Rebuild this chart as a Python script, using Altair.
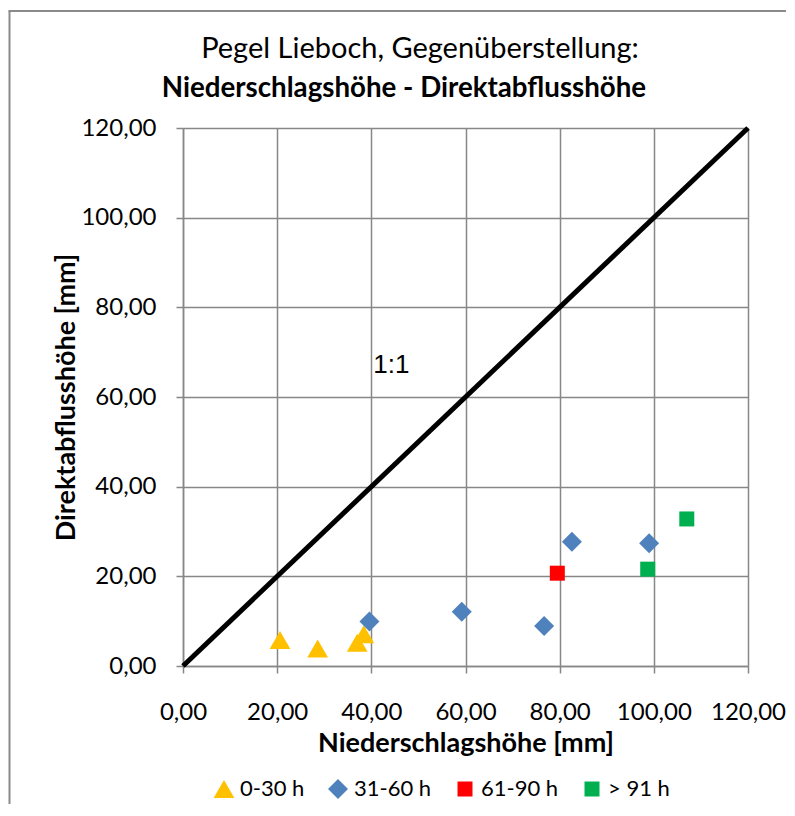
import altair as alt
import pandas as pd

# ---- data ----
series_names = ["0-30 h", "31-60 h", "61-90 h", "> 91 h"]
x_0_30 = [20.6, 28.6, 37.0, 38.4]
y_0_30 = [5.8, 3.9, 5.2, 7.1]
x_31_60 = [39.6, 59.2, 76.7, 82.6, 99.0]
y_31_60 = [9.9, 12.1, 8.9, 27.7, 27.4]
x_61_90 = [79.5]
y_61_90 = [20.7]
x_91 = [98.7, 107.0]
y_91 = [21.6, 32.8]

line_x = [0, 120]
line_y = [0, 120]
annot_text = ["1:1"]
annot_x = [40.4]
annot_y = [65.4]
tick_values = [0, 20, 40, 60, 80, 100, 120]
title_line1 = "Pegel Lieboch, Gegenüberstellung:"
title_line2 = "Niederschlagshöhe - Direktabflusshöhe"

colors = ["#FFC000", "#4F81BD", "#FF0000", "#00B050"]
shapes = ["triangle-up", "diamond", "square", "square"]
sizes = [430, 400, 225, 225]

rows = []
for name, xs, ys in zip(series_names,
                        [x_0_30, x_31_60, x_61_90, x_91],
                        [y_0_30, y_31_60, y_61_90, y_91]):
    for a, b in zip(xs, ys):
        rows.append({"x": a, "y": b, "series": name})
pts = pd.DataFrame(rows)
line_df = pd.DataFrame({"x": line_x, "y": line_y})
annot_df = pd.DataFrame({"x": annot_x, "y": annot_y, "t": annot_text})

FONT = "Lato"
GRID = "#878787"
lab_expr = "replace(format(datum.value, '.2f'), '.', ',')"

xscale = alt.Scale(domain=[0, 120], nice=False, zero=True)
yscale = alt.Scale(domain=[0, 120], nice=False, zero=True)

xaxis = alt.Axis(values=tick_values, labelExpr=lab_expr, title="Niederschlagshöhe [mm]",
                 grid=True, gridColor=GRID, gridWidth=1.5, domainColor=GRID, domainWidth=1.5,
                 tickColor=GRID, tickWidth=1.5, tickSize=7, labelFont=FONT, labelFontSize=24,
                 labelColor="black", labelPadding=27, labelOverlap=False, labelFlush=False,
                 titleFont=FONT, titleFontSize=27, titleFontWeight="bold", titleColor="black",
                 titlePadding=6)
yaxis = alt.Axis(values=tick_values, labelExpr=lab_expr, title="Direktabflusshöhe [mm]",
                 grid=True, gridColor=GRID, gridWidth=1.5, domainColor=GRID, domainWidth=1.5,
                 tickColor=GRID, tickWidth=1.5, tickSize=7, labelFont=FONT, labelFontSize=24,
                 labelColor="black", labelPadding=20, labelOverlap=False, labelFlush=False,
                 titleFont=FONT, titleFontSize=27, titleFontWeight="bold", titleColor="black",
                 titlePadding=0)

line = alt.Chart(line_df).mark_line(color="black", strokeWidth=5).encode(
    x=alt.X("x:Q", scale=xscale, axis=xaxis),
    y=alt.Y("y:Q", scale=yscale, axis=yaxis),
)

points = alt.Chart(pts).mark_point(filled=True, opacity=1, strokeWidth=0).encode(
    x=alt.X("x:Q", scale=xscale),
    y=alt.Y("y:Q", scale=yscale),
    color=alt.Color("series:N", scale=alt.Scale(domain=series_names, range=colors),
                    legend=alt.Legend(title=None, orient="none", legendX=30, legendY=650,
                                      direction="horizontal", labelFont=FONT, labelFontSize=22,
                                      labelColor="black", columnPadding=22, labelOffset=5,
                                      padding=0, symbolStrokeWidth=0)),
    shape=alt.Shape("series:N", scale=alt.Scale(domain=series_names, range=shapes)),
    size=alt.Size("series:N", scale=alt.Scale(type="ordinal", domain=series_names, range=sizes)),
)

annot = alt.Chart(annot_df).mark_text(font="Liberation Sans", fontSize=26, align="left",
                                      baseline="alphabetic", color="black").encode(
    x=alt.X("x:Q", scale=xscale), y=alt.Y("y:Q", scale=yscale), text="t:N")

title_df = pd.DataFrame({"t1": [title_line1], "t2": [title_line2]})
title1 = alt.Chart(title_df).mark_text(font=FONT, fontSize=29, align="center",
                                       baseline="alphabetic", color="black").encode(
    x=alt.value(237), y=alt.value(-70), text="t1:N")
title2 = alt.Chart(title_df).mark_text(font=FONT, fontSize=27.7, fontWeight="bold", align="center",
                                       baseline="alphabetic", color="black").encode(
    x=alt.value(221), y=alt.value(-31), text="t2:N")

# chart-area frame: left and top edges only (the others lie outside the picture)
frame_df = pd.DataFrame({"k": [0]})
frame_left = alt.Chart(frame_df).mark_rule(color="#8a8a8a", strokeWidth=2).encode(
    x=alt.value(-173.5), y=alt.value(-117), y2=alt.value(680))
frame_top = alt.Chart(frame_df).mark_rule(color="#8a8a8a", strokeWidth=2).encode(
    x=alt.value(-174.5), x2=alt.value(610), y=alt.value(-117))

chart = alt.layer(frame_left, frame_top, line, points, annot, title1, title2).properties(
    width=565, height=538,
    autosize=alt.AutoSizeParams(type="none"),
    padding={"left": 175, "top": 120, "right": 38, "bottom": 138},
).configure_view(strokeWidth=0).configure(background="white")

chart.save("out.html", embed_options={"renderer": "svg", "actions": False})
